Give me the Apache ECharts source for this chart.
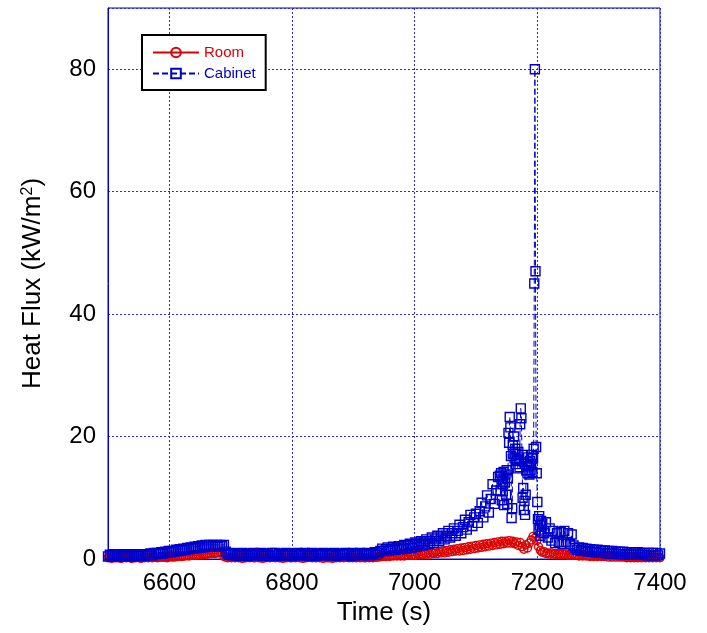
<!DOCTYPE html>
<html>
<head>
<meta charset="utf-8">
<script src="https://cdn.jsdelivr.net/npm/echarts@6/dist/echarts.min.js"></script>
<style>
html,body{margin:0;padding:0;background:#fff;}
#chart{width:707px;height:633px;}
</style>
</head>
<body>
<div id="chart"></div>
<script>
// Room heat flux (kW/m2): readings every 3 s from 6500 s to 7400 s
const roomStart = 6500, roomStep = 3;
const roomFlux = [
  0.2,0.3,0.1,0.3,0.2,0.2,0.3,0.1,0.2,0.3,
  0.2,0.3,0.2,0.1,0.3,0.2,0.3,0.2,0.1,0.3,
  0.2,0.3,0.2,0.3,0.2,0.3,0.3,0.2,0.3,0.3,
  0.3,0.3,0.2,0.4,0.3,0.4,0.3,0.4,0.4,0.5,
  0.4,0.5,0.5,0.6,0.5,0.6,0.6,0.7,0.6,0.7,
  0.7,0.8,0.7,0.8,0.8,0.9,0.9,1.0,0.9,1.0,
  1.0,1.1,1.0,0.4,0.3,0.2,0.3,0.2,0.3,0.2,
  0.3,0.2,0.3,0.1,0.3,0.2,0.3,0.2,0.3,0.2,
  0.2,0.3,0.2,0.3,0.1,0.3,0.2,0.3,0.2,0.3,
  0.3,0.2,0.3,0.2,0.3,0.1,0.3,0.2,0.3,0.2,
  0.2,0.3,0.2,0.3,0.2,0.3,0.1,0.3,0.2,0.3,
  0.3,0.2,0.3,0.2,0.3,0.2,0.3,0.1,0.3,0.2,
  0.2,0.3,0.1,0.3,0.2,0.3,0.2,0.3,0.2,0.3,
  0.3,0.2,0.3,0.2,0.3,0.2,0.3,0.2,0.3,0.2,
  0.2,0.3,0.2,0.3,0.2,0.3,0.3,0.3,0.5,0.4,
  0.5,0.4,0.6,0.4,0.6,0.5,0.6,0.5,0.7,0.5,
  0.7,0.5,0.7,0.6,0.8,0.6,0.8,0.6,0.9,0.7,
  0.9,0.7,1.0,0.8,1.0,0.8,1.1,0.9,1.2,0.9,
  1.2,1.0,1.3,1.0,1.4,1.1,1.5,1.2,1.6,1.3,
  1.7,1.3,1.8,1.4,1.9,1.5,2.0,1.6,2.1,1.7,
  2.2,1.8,2.3,1.9,2.4,2.0,2.5,2.1,2.6,2.2,
  2.7,2.3,2.8,2.4,2.9,2.5,2.9,2.6,3.0,2.6,
  2.9,2.5,2.8,2.2,2.7,2.0,1.6,2.3,1.8,2.6,
  3.1,3.7,3.4,3.0,2.0,1.4,1.1,1.2,0.9,1.0,
  0.8,1.0,0.8,0.9,0.7,0.9,0.7,0.9,0.7,0.8,
  0.6,0.8,0.6,0.8,0.6,0.7,0.5,0.7,0.5,0.7,
  0.5,0.6,0.4,0.6,0.4,0.6,0.4,0.6,0.4,0.5,
  0.4,0.5,0.3,0.5,0.3,0.5,0.3,0.5,0.3,0.4,
  0.3,0.4,0.2,0.4,0.2,0.4,0.2,0.4,0.2,0.4,
  0.2,0.4,0.2,0.3,0.2,0.3,0.2,0.3,0.2,0.3,
  0.2
];

// Cabinet heat flux (kW/m2), part 1: every 3 s from 6500 s to 7136 s
const cabinetStart1 = 6500, cabinetStep1 = 3;
const cabinetFlux1 = [
  0.4,0.7,0.5,0.8,0.4,0.6,0.8,0.5,0.7,0.4,
  0.6,0.8,0.5,0.7,0.4,0.8,0.6,0.5,0.8,0.6,
  0.5,0.8,0.7,0.9,0.6,1.0,0.8,1.0,0.9,1.1,
  0.9,1.2,1.0,1.3,1.1,1.3,1.2,1.5,1.3,1.6,
  1.4,1.7,1.5,1.8,1.6,1.9,1.7,2.0,1.8,2.1,
  1.8,2.2,1.9,2.3,2.0,2.3,2.0,2.3,2.1,2.3,
  2.0,2.3,2.1,2.3,1.2,0.9,0.7,1.0,0.6,0.9,
  0.6,0.9,0.5,1.0,0.7,0.8,0.5,0.9,0.6,1.0,
  0.7,0.9,0.6,1.0,0.5,0.8,0.7,0.9,0.5,1.0,
  0.6,1.0,0.7,0.8,0.5,0.9,0.6,1.0,0.7,0.9,
  0.5,0.9,0.6,1.0,0.7,0.8,0.6,1.0,0.5,0.9,
  0.7,1.0,0.5,0.9,0.6,0.8,0.7,1.0,0.6,0.9,
  0.6,0.9,0.7,1.0,0.5,0.9,0.6,0.8,0.7,1.0,
  0.7,0.9,0.5,1.0,0.6,0.9,0.7,1.0,0.6,0.9,
  0.7,1.0,0.6,0.9,0.8,1.1,0.7,1.0,1.3,1.7,
  1.3,1.6,1.9,1.4,1.7,2.0,1.5,1.8,2.1,1.6,
  1.9,2.3,1.7,2.1,2.5,1.8,2.3,2.7,2.0,2.5,
  2.9,2.2,2.7,3.2,2.4,2.9,3.5,2.6,3.2,3.8,
  2.9,3.5,4.2,3.2,3.8,4.6,3.5,4.2,5.0,3.8,
  4.6,5.6,4.2,5.2,6.4,4.8,6.0,7.2,5.4,6.8,
  7.4,5.9,7.8,9.2,6.8,8.6,10.4,7.6,9.8,12.2,
  9.0,11.2,13.4
];

// Cabinet heat flux (kW/m2), part 2: every 1 s from 7139 s to 7208 s
const cabinetStart2 = 7139, cabinetStep2 = 1;
const cabinetFlux2 = [
  13.6,11.2,14.0,9.6,13.0,12.2,14.2,8.8,12.5,13.8,
  10.5,14.5,9.0,13.2,20.6,19.0,23.2,21.5,16.8,6.7,
  8.3,18.6,17.2,20.0,16.5,18.0,15.5,17.2,16.0,14.8,
  17.5,16.2,15.0,22.0,24.6,23.0,17.0,10.0,11.6,8.0,
  9.5,7.2,10.5,14.5,15.8,14.0,16.6,15.2,13.8,16.0,
  14.5,15.4,17.0,14.2,16.4,18.0,45.0,80.0,47.0,18.3,
  14.0,9.3,6.5,4.8,7.0,5.5,3.8,6.2,4.5,5.8
];

// Cabinet heat flux (kW/m2), part 3: every 3 s from 7211 s to 7400 s
const cabinetStart3 = 7211, cabinetStep3 = 3;
const cabinetFlux3 = [
  4.2,6.0,3.5,5.0,3.0,4.6,2.6,4.2,2.8,4.4,
  2.5,4.6,2.8,4.2,2.4,4.0,2.2,1.8,1.5,1.9,
  1.4,1.8,1.3,1.7,1.2,1.6,1.2,1.5,1.1,1.5,
  1.0,1.4,1.0,1.4,0.9,1.3,0.9,1.3,0.9,1.2,
  0.8,1.2,0.8,1.2,0.8,1.1,0.7,1.1,0.7,1.1,
  0.7,1.1,0.7,1.0,0.7,1.0,0.6,1.0,0.6,1.0,
  0.6,1.0,0.6,0.9
];

// Axis tick labels
const xTickLabels = [6600, 6800, 7000, 7200, 7400];
const yTickLabels = [0, 20, 40, 60, 80];

const RED = '#dd0000';
const BLUE = '#0000cc';
const GRIDBLUE = '#2a2ad0';
const FONT = 'Liberation Sans, Arial, sans-serif';

const toPairs = (start, step, vals) => vals.map((v, i) => [start + i * step, v]);
const roomData = toPairs(roomStart, roomStep, roomFlux);
const cabinetData = []
  .concat(toPairs(cabinetStart1, cabinetStep1, cabinetFlux1))
  .concat(toPairs(cabinetStart2, cabinetStep2, cabinetFlux2))
  .concat(toPairs(cabinetStart3, cabinetStep3, cabinetFlux3));

const chart = echarts.init(document.getElementById('chart'), null, {renderer: 'canvas'});
chart.setOption({
  animation: false,
  backgroundColor: '#fff',
  grid: {
    left: 108, right: 47, top: 8, bottom: 74,
    show: true, borderColor: BLUE, borderWidth: 1, backgroundColor: 'transparent'
  },
  legend: {
    left: 142, top: 35, orient: 'vertical',
    padding: [10, 10, 9, 10], itemGap: 6, itemWidth: 46, itemHeight: 12,
    borderColor: '#000', borderWidth: 2, borderRadius: 0, backgroundColor: '#fff',
    textStyle: {fontSize: 15, fontFamily: FONT},
    data: [
      {name: 'Room', textStyle: {color: RED}},
      {name: 'Cabinet', textStyle: {color: BLUE}}
    ]
  },
  xAxis: {
    type: 'value', min: 6500, max: 7400, interval: 100,
    name: 'Time (s)', nameLocation: 'middle', nameGap: 40,
    nameTextStyle: {fontSize: 26, color: '#000', fontFamily: FONT},
    axisLine: {show: true, lineStyle: {color: BLUE, width: 1}},
    axisTick: {show: false},
    axisLabel: {
      margin: 12, fontSize: 24, color: '#000', fontFamily: FONT,
      formatter: v => xTickLabels.indexOf(v) >= 0 ? String(v) : ''
    },
    splitLine: {show: true, lineStyle: {color: ['rgba(0,0,0,0)', GRIDBLUE], type: [2, 2], width: 1}}
  },
  yAxis: {
    type: 'value', min: 0, max: 90, interval: 20,
    name: 'Heat Flux (kW/m{sup|2})', nameLocation: 'middle', nameGap: 62,
    nameTextStyle: {
      fontSize: 26, color: '#000', fontFamily: FONT,
      rich: {sup: {fontSize: 16, verticalAlign: 'top', lineHeight: 14, color: '#000', fontFamily: FONT}}
    },
    axisLine: {show: true, lineStyle: {color: BLUE, width: 1}},
    axisTick: {show: false},
    axisLabel: {
      margin: 12, fontSize: 24, color: '#000', fontFamily: FONT,
      formatter: v => yTickLabels.indexOf(v) >= 0 ? String(v) : ''
    },
    splitLine: {show: true, lineStyle: {color: GRIDBLUE, type: [2, 2], width: 1}}
  },
  series: [
    {
      name: 'Room', type: 'line', data: roomData,
      symbol: 'circle', symbolSize: 8, showSymbol: true,
      itemStyle: {color: 'rgba(255,255,255,0)', borderColor: RED, borderWidth: 1.4},
      lineStyle: {color: RED, width: 1},
      z: 2
    },
    {
      name: 'Cabinet', type: 'line', data: cabinetData,
      symbol: 'rect', symbolSize: 9, showSymbol: true,
      itemStyle: {color: 'rgba(255,255,255,0)', borderColor: BLUE, borderWidth: 1.4},
      lineStyle: {color: BLUE, width: 1, type: [6, 3]},
      z: 3
    }
  ]
});
</script>
</body>
</html>
